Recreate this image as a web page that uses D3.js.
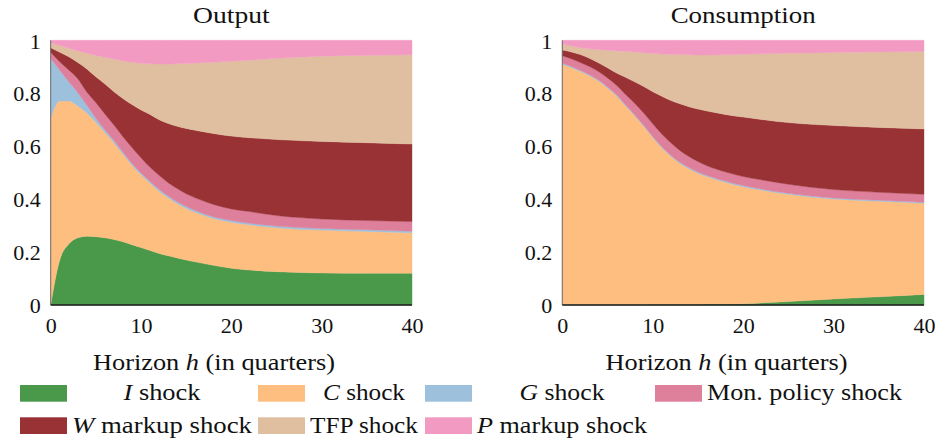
<!DOCTYPE html>
<html><head><meta charset="utf-8">
<script src="https://cdn.jsdelivr.net/npm/d3@7"></script>
<style>
body{margin:0;background:#fff}
svg{display:block}
svg text{font-family:'Liberation Serif',serif;fill:#111}
</style>
</head><body>
<svg id="chart" width="935" height="443"></svg>
<script>
// ---------- data ----------
const horizons = [0,1,2,3,4,5,6,7,8,9,10,11,12,13,14,15,16,18,20,22,25,30,35,40];
const seriesKeys = ["I","C","G","Mon","W","TFP","P"];
const seriesColors = ["#4a994a","#febe80","#9dc0dc","#de7f9c","#983234","#e0bfa0","#f39ac3"];
const xTicks = [0,10,20,30,40];
const yTicks = [0,0.2,0.4,0.6,0.8,1];
const yTickLabels = ["0","0.2","0.4","0.6","0.8","1"];
const panelTitles = ["Output","Consumption"];

// Output: variance shares by shock
const outI   = [0,.17,.23,.254,.26,.258,.254,.247,.239,.228,.217,.206,.195,.186,.178,.17,.163,.15,.139,.132,.126,.121,.12,.12];
const outC   = [.705,.601,.541,.498,.465,.432,.398,.366,.331,.30,.275,.254,.235,.219,.205,.195,.187,.177,.174,.171,.166,.162,.158,.153];
const outG   = [.227,.116,.073,.05,.03,.016,.01,.008,.007,.007,.007,.007,.007,.007,.007,.007,.007,.006,.006,.006,.006,.006,.006,.006];
const outMon = [.023,.032,.044,.053,.05,.059,.06,.059,.059,.06,.057,.053,.053,.05,.05,.048,.048,.047,.044,.044,.04,.036,.035,.036];
const outW   = [.017,.036,.05,.061,.087,.097,.113,.126,.144,.162,.181,.20,.21,.224,.235,.247,.255,.268,.275,.279,.287,.293,.294,.293];
const outTFP = [.019,.025,.032,.044,.059,.081,.101,.123,.142,.16,.176,.191,.21,.224,.236,.245,.254,.269,.283,.293,.307,.322,.33,.337];
const outP   = [.009,.02,.03,.04,.049,.057,.064,.071,.078,.083,.087,.089,.09,.09,.089,.088,.086,.083,.079,.075,.068,.06,.057,.055];

// Consumption: variance shares by shock
const conI   = [.002,.002,.002,.002,.002,.002,.002,.002,.002,.002,.003,.003,.003,.003,.003,.003,.004,.004,.005,.008,.013,.023,.031,.04];
const conC   = [.907,.895,.88,.864,.844,.818,.788,.75,.713,.673,.63,.591,.559,.532,.512,.495,.481,.46,.442,.426,.405,.377,.361,.344];
const conG   = [.004,.004,.004,.004,.004,.004,.004,.004,.004,.004,.004,.004,.004,.004,.004,.004,.004,.004,.004,.004,.004,.004,.004,.004];
const conMon = [.029,.029,.03,.031,.032,.034,.036,.039,.043,.046,.048,.048,.047,.045,.042,.04,.037,.035,.034,.035,.034,.032,.03,.03];
const conW   = [.021,.026,.03,.031,.033,.038,.046,.065,.081,.10,.121,.143,.16,.176,.188,.198,.207,.217,.225,.228,.233,.242,.245,.247];
const conTFP = [.023,.022,.026,.036,.05,.066,.084,.098,.113,.128,.144,.159,.174,.186,.196,.204,.211,.225,.237,.248,.262,.276,.285,.293];
const conP   = [.014,.022,.028,.032,.035,.038,.04,.042,.044,.047,.05,.052,.053,.054,.055,.056,.056,.055,.053,.051,.049,.046,.044,.042];

// legend
const legendItems = [
  {it:"I",  rest:" shock",            col:0,row:0,w:77},
  {it:"C",  rest:" shock",            col:1,row:0,w:82},
  {it:"G",  rest:" shock",            col:2,row:0,w:85},
  {it:"",   rest:"Mon. policy shock", col:3,row:0,w:195},
  {it:"W",  rest:" markup shock",     col:0,row:1,w:180},
  {it:"",   rest:"TFP shock",         col:1,row:1,w:108},
  {it:"P",  rest:" markup shock",     col:2,row:1,w:170}
];

// ---------- build ----------
const FONT = "'Liberation Serif', serif";
function rows(arrs){
  return horizons.map((h,i)=>{
    const o={h};
    seriesKeys.forEach((k,j)=>o[k]=arrs[j][i]);
    return o;
  });
}
const panels = [
  {title:panelTitles[0], data:rows([outI,outC,outG,outMon,outW,outTFP,outP]), x0:50.7, x1:412, titleW:76.7, labelCx:214},
  {title:panelTitles[1], data:rows([conI,conC,conG,conMon,conW,conTFP,conP]), x0:562.3, x1:924, titleW:145, labelCx:726.5}
];
const svg = d3.select("#chart");
const yTop = 40.3, yBot = 305;
const color = d3.scaleOrdinal().domain(seriesKeys).range(seriesColors);

panels.forEach(p=>{
  const x = d3.scaleLinear().domain([0,40]).range([p.x0,p.x1]);
  const y = d3.scaleLinear().domain([0,1]).range([yBot,yTop]);
  const stack = d3.stack().keys(seriesKeys);
  const layers = stack(p.data);
  const area = d3.area()
    .x(d=>x(d.data.h))
    .y0(d=>y(d[0]))
    .y1(d=>y(d[1]))
    .curve(d3.curveMonotoneX);
  const g = svg.append("g");
  g.selectAll("path.layer").data(layers).join("path")
    .attr("class","layer")
    .attr("d",area)
    .attr("fill",d=>color(d.key))
    .attr("stroke",d=>color(d.key))
    .attr("stroke-width",0.4);

  g.append("line").attr("x1",p.x0).attr("x2",p.x0).attr("y1",yTop).attr("y2",yBot)
    .attr("stroke","#6b6b6b").attr("stroke-width",1);
  g.append("line").attr("x1",p.x0).attr("x2",p.x1).attr("y1",yBot).attr("y2",yBot)
    .attr("stroke","#1a1a1a").attr("stroke-width",1.3);

  const yAxis = d3.axisLeft(y).tickValues(yTicks).tickSize(0).tickPadding(10)
    .tickFormat((d,i)=>yTickLabels[i]);
  const ya = g.append("g").attr("transform",`translate(${p.x0},0)`).call(yAxis)
    .attr("font-family",FONT).attr("font-size",22);
  ya.select(".domain").remove();
  ya.selectAll("text").style("font-family",FONT).style("font-size","22px").attr("fill","#111").attr("dy","0.35em");

  const xAxis = d3.axisBottom(x).tickValues(xTicks).tickSize(0).tickPadding(12).tickFormat(d3.format("d"));
  const xa = g.append("g").attr("transform",`translate(0,${yBot})`).call(xAxis)
    .attr("font-family",FONT).attr("font-size",22);
  xa.select(".domain").remove();
  xa.selectAll("text").style("font-family",FONT).style("font-size","22px").attr("fill","#111");

  g.append("text").attr("x",(p.x0+p.x1)/2).attr("y",23).attr("text-anchor","middle")
    .style("font-family",FONT).style("font-size","23px")
    .attr("textLength",p.titleW).attr("lengthAdjust","spacingAndGlyphs")
    .text(p.title);

  const t = g.append("text").attr("x",p.labelCx).attr("y",370).attr("text-anchor","middle")
    .style("font-family",FONT).style("font-size","23px")
    .attr("textLength",242).attr("lengthAdjust","spacingAndGlyphs");
  t.append("tspan").text("Horizon ");
  t.append("tspan").attr("font-style","italic").text("h");
  t.append("tspan").text(" (in quarters)");
});

// legend
const colX = [20,258,425,655];
const rowY = [385,417.3];
const swW = 47, swH = 16.7, gap = 5;
const cellW = colX.map((_,c)=>d3.max(legendItems.filter(d=>d.col===c),d=>d.w));
const lg = svg.append("g");
legendItems.forEach((d,i)=>{
  lg.append("rect").attr("x",colX[d.col]).attr("y",rowY[d.row]).attr("width",swW).attr("height",swH)
    .attr("fill",seriesColors[i]);
  const tx = colX[d.col]+swW+gap+(cellW[d.col]-d.w)/2;
  const t = lg.append("text").attr("x",tx).attr("y",rowY[d.row]+15.3)
    .style("font-family",FONT).style("font-size","23px")
    .attr("textLength",d.w).attr("lengthAdjust","spacingAndGlyphs");
  if(d.it) t.append("tspan").attr("font-style","italic").text(d.it);
  t.append("tspan").text(d.rest);
});
</script>
</body></html>
